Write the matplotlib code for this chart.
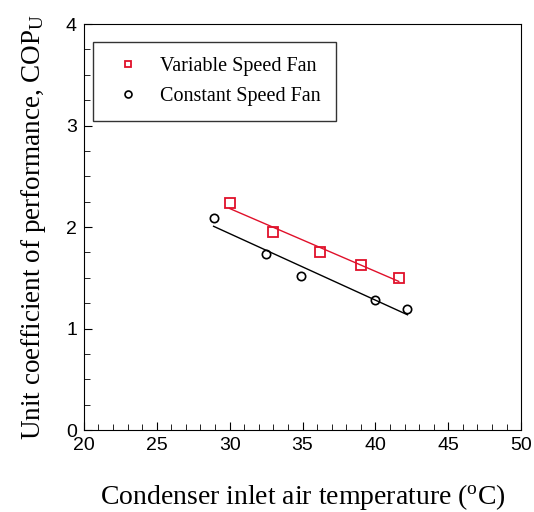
import numpy as np
import matplotlib
matplotlib.use("Agg")
import matplotlib.pyplot as plt
from matplotlib.ticker import MultipleLocator

plt.rcParams['mathtext.fontset'] = 'custom'
plt.rcParams['mathtext.rm'] = 'Liberation Serif'
plt.rcParams['mathtext.it'] = 'Liberation Serif:italic'

var_x = [30.0, 33.0, 36.2, 39.0, 41.6]
var_y = [2.24, 1.95, 1.75, 1.63, 1.50]
const_x = [28.9, 32.5, 34.9, 40.0, 42.2]
const_y = [2.09, 1.73, 1.52, 1.28, 1.19]
labels = ["Variable Speed Fan", "Constant Speed Fan"]

fig = plt.figure(figsize=(5.34, 5.12), dpi=100)
ax = fig.add_axes([0.157, 0.160, 0.819, 0.793])

ax.plot(var_x, var_y, linestyle='none', marker='s', markersize=7, markerfacecolor='none',
        markeredgecolor='#e0102a', markeredgewidth=1.3, label=labels[0])
ax.plot(const_x, const_y, linestyle='none', marker='o', markersize=6, markerfacecolor='none',
        markeredgecolor='black', markeredgewidth=1.2, label=labels[1])

for xs, ys, c in [(var_x, var_y, '#e0102a'), (const_x, const_y, 'black')]:
    p = np.polyfit(xs, ys, 1)
    xx = np.array([min(xs), max(xs)])
    ax.plot(xx, np.polyval(p, xx), color=c, linewidth=1.0)

ax.set_xlim(20, 50)
ax.set_ylim(0, 4)
ax.xaxis.set_major_locator(MultipleLocator(5))
ax.xaxis.set_minor_locator(MultipleLocator(1))
ax.yaxis.set_major_locator(MultipleLocator(1))
ax.yaxis.set_minor_locator(MultipleLocator(0.25))
ax.tick_params(which='both', direction='in', top=False, right=False,
               labelsize=14, pad=5)
ax.tick_params(which='major', length=6)
ax.tick_params(which='minor', length=4)
for lab in ax.get_xticklabels() + ax.get_yticklabels():
    lab.set_fontfamily('Liberation Sans')

ax.set_xlabel(r'Condenser inlet air temperature ($^{\mathrm{o}}$C)',
              fontfamily='Liberation Serif', fontsize=20, labelpad=20)
ax.set_ylabel(r'Unit coefficient of performance, COP$_{\mathrm{U}}$',
              fontfamily='Liberation Serif', fontsize=19.5, labelpad=13)

leg = ax.legend(loc='upper left', bbox_to_anchor=(0.02, 0.956), frameon=True, fancybox=False,
                edgecolor='black', prop={'family': 'Liberation Serif', 'size': 14.5},
                borderpad=0.75, handletextpad=0.6, labelspacing=0.55, borderaxespad=0,
                handlelength=2.0)
leg.get_frame().set_linewidth(1.0)
for h in leg.legend_handles:
    h.set_markersize(5)

fig.savefig('out.png', dpi=100)
